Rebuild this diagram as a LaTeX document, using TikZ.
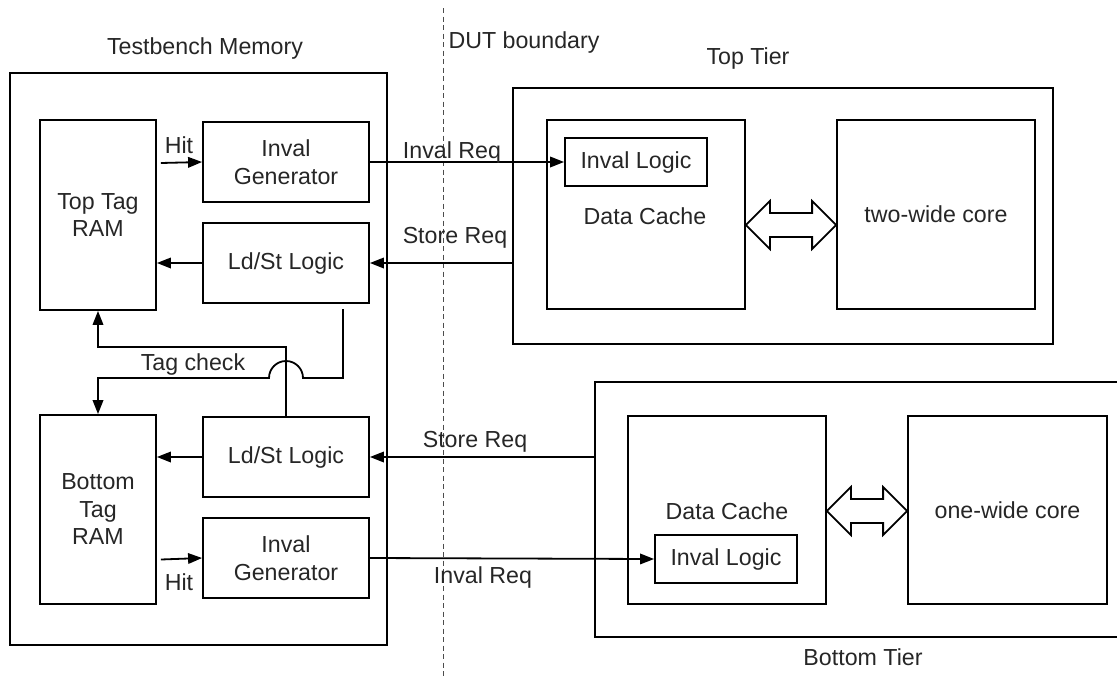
\documentclass[tikz,border=0pt]{standalone}
\usepackage{fontspec}
\setmainfont{Liberation Sans}
\usetikzlibrary{arrows.meta,calc}

\begin{document}
\begin{tikzpicture}[x=1pt,y=-1pt,
  every node/.style={font=\fontsize{23.2}{27.5}\selectfont, text=black!85},
  blk/.style={draw, line width=1.8pt, inner sep=0pt, align=center},
  lbl/.style={inner sep=0pt, align=center},
  conn/.style={line width=1.8pt, -{Triangle[length=14pt,width=10.5pt]}},
  wire/.style={line width=1.8pt},
  bus/.style={draw, line width=1.8pt, line join=miter},
  boundary/.style={line width=0.9pt, black!70, dash pattern=on 5pt off 3.5pt},
]
\useasboundingbox (0,0) rectangle (1117,678);
\clip (0,0) rectangle (1117,678);

% ---- testbench memory side ----
\node[blk, minimum width=377pt, minimum height=572pt] (tb) at (198.5,359) {};
\node[lbl] (tbl) at (205,48) {Testbench Memory};

\node[blk, minimum width=116pt, minimum height=190pt] (topRAM) at (98,215) {Top Tag\\RAM};
\node[blk, minimum width=166pt, minimum height=80pt] (invT) at (286,162) {Inval\\Generator};
\node[blk, minimum width=166pt, minimum height=80pt] (lsT) at (286,263) {Ld/St Logic};

\node[blk, minimum width=116pt, minimum height=189pt] (botRAM) at (98,509.5) {Bottom\\Tag\\RAM};
\node[blk, minimum width=166pt, minimum height=80pt] (lsB) at (286,457) {Ld/St Logic};
\node[blk, minimum width=166pt, minimum height=80pt] (invB) at (286,558) {Inval\\Generator};

% ---- DUT boundary ----
\coordinate (dutTop) at (443,8);
\coordinate (dutBot) at (443,678);
\draw[boundary] (dutTop) -- (dutBot);
\node[lbl] (dutl) at (524,42) {DUT boundary};

% ---- top tier ----
\node[blk, minimum width=540pt, minimum height=256pt] (topTier) at (783,216) {};
\node[lbl] (topl) at (748,58) {Top Tier};
\node[blk, minimum width=198pt, minimum height=189pt] (dcT) at (646,214.5) {};
\node[lbl] (dcTl) at (645,216) {Data Cache};
\node[blk, minimum width=142pt, minimum height=48pt] (ilT) at (636,162) {Inval Logic};
\node[blk, minimum width=198pt, minimum height=189pt] (coreT) at (936,214.5) {two-wide core};

% ---- bottom tier ----
\node[blk, minimum width=540pt, minimum height=255pt] (botTier) at (865,509.5) {};
\node[lbl] (botl) at (863,657) {Bottom Tier};
\node[blk, minimum width=198pt, minimum height=188pt] (dcB) at (727,510) {};
\node[lbl] (dcBl) at (727,511) {Data Cache};
\node[blk, minimum width=142pt, minimum height=48pt] (ilB) at (726,559) {Inval Logic};
\node[blk, minimum width=199pt, minimum height=188pt] (coreB) at (1007.5,510) {one-wide core};

% ---- hit paths ----
\draw[conn] ($(topRAM.east |- invT.west)+(4,1)$) -- (invT.west);
\node[lbl] (hitT) at (179,145) {Hit};
\draw[conn] ($(botRAM.east |- invB.west)+(4,1.5)$) -- (invB.west);
\node[lbl] (hitB) at (179,582) {Hit};

% ---- ld/st to tag rams ----
\draw[conn] (lsT.west) -- (topRAM.east |- lsT.west);
\draw[conn] (lsB.west) -- (botRAM.east |- lsB.west);

% ---- requests across the boundary ----
\draw[conn] (invT.east) -- (ilT.west);
\node[lbl] (irT) at (452,152) {Inval Req};
\draw[conn] (topTier.west |- lsT.east) -- (lsT.east);
\node[lbl] (srT) at (455,238) {Store Req};
\draw[conn] (botTier.west |- lsB.east) -- (lsB.east);
\node[lbl] (srB) at (475,442) {Store Req};
\draw[conn] (invB.east) -- (ilB.west);
\node[lbl] (irB) at (483,577) {Inval Req};

% ---- tag check cross-over ----
\coordinate (upRow) at (0,347);
\coordinate (dnRow) at (0,378);
\coordinate (dnStart) at (343,309);
\draw[conn] (lsB.north) -- (lsB.north |- upRow) -| (topRAM.south);
\draw[conn] (dnStart) -- (dnStart |- dnRow)
  -- ($(lsB.north |- dnRow)+(17,0)$) arc[start angle=0, end angle=180, radius=17pt]
  -- (botRAM.north |- dnRow) -- (botRAM.north);
\node[lbl] (tagl) at (193,364) {Tag check};

% ---- cache/core buses ----
\coordinate (busT) at (0,225);
\draw[bus] (dcT.east |- busT) -- ++(24,-24) -- ++(0,12)
  -- ($(coreT.west |- busT)+(-24,-12)$) -- ++(0,-12) -- (coreT.west |- busT)
  -- ++(-24,24) -- ++(0,-12) -- ($(dcT.east |- busT)+(24,12)$) -- ++(0,12) -- cycle;
\coordinate (busB) at (0,511);
\draw[bus] (dcB.east |- busB) -- ++(24,-24) -- ++(0,12)
  -- ($(coreB.west |- busB)+(-24,-12)$) -- ++(0,-12) -- (coreB.west |- busB)
  -- ++(-24,24) -- ++(0,-12) -- ($(dcB.east |- busB)+(24,12)$) -- ++(0,12) -- cycle;
\end{tikzpicture}
\end{document}
